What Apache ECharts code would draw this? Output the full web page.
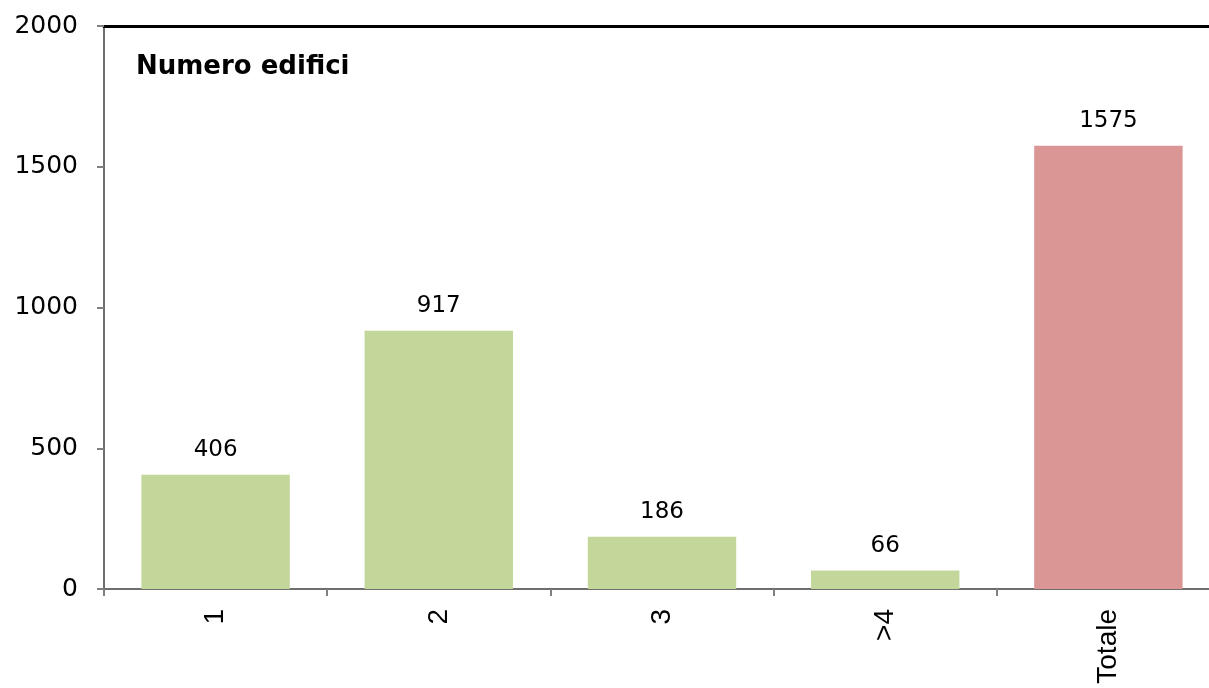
<!DOCTYPE html>
<html>
<head>
<meta charset="utf-8">
<script src="https://cdn.jsdelivr.net/npm/echarts@6/dist/echarts.min.js"></script>
<style>html,body{margin:0;padding:0;background:#fff;}#c{width:1209px;height:688px;}</style>
</head>
<body>
<div id="c"></div>
<script>
const categories = ['1', '2', '3', '>4', 'Totale'];
const values = [406, 917, 186, 66, 1575];
const barColors = ['#C4D79B', '#C4D79B', '#C4D79B', '#C4D79B', '#DA9694'];
const yTicks = [0, 500, 1000, 1500, 2000];
const title = 'Numero edifici';

const chart = echarts.init(document.getElementById('c'), null, {renderer: 'canvas'});
chart.setOption({
  animation: false,
  backgroundColor: '#fff',
  title: {
    text: title, left: 136, top: 54, padding: 0,
    textStyle: {fontFamily: 'DejaVu Sans', fontWeight: 'bold', fontSize: 26, color: '#000'}
  },
  grid: {left: 104, top: 26, width: 1116, height: 563, containLabel: false, outerBoundsMode: 'none'},
  xAxis: [{
    type: 'category', data: categories, position: 'bottom',
    axisLine: {lineStyle: {color: '#6e6e6e', width: 2}},
    axisTick: {show: true, length: 7, lineStyle: {color: '#808080', width: 2}},
    axisLabel: {rotate: 90, margin: 20, fontFamily: 'Liberation Sans', fontSize: 28, color: '#000'}
  }, {
    type: 'category', data: categories, position: 'top',
    axisLine: {lineStyle: {color: '#000', width: 3}},
    axisTick: {show: false}, axisLabel: {show: false}
  }],
  yAxis: {
    type: 'value', min: yTicks[0], max: yTicks[yTicks.length - 1], interval: 500,
    axisLine: {show: true, lineStyle: {color: '#6e6e6e', width: 2}},
    axisTick: {show: true, length: 7, lineStyle: {color: '#808080', width: 2}},
    splitLine: {show: false},
    axisLabel: {margin: 26, fontFamily: 'DejaVu Sans', fontSize: 25, color: '#000', formatter: v => String(v)}
  },
  series: [{
    type: 'bar', xAxisIndex: 0,
    barWidth: '66.5%',
    data: values.map((v, i) => ({value: v, itemStyle: {color: barColors[i]}})),
    label: {show: true, position: 'top', distance: 13, fontFamily: 'DejaVu Sans', fontSize: 23, color: '#000'}
  }]
});
</script>
</body>
</html>
